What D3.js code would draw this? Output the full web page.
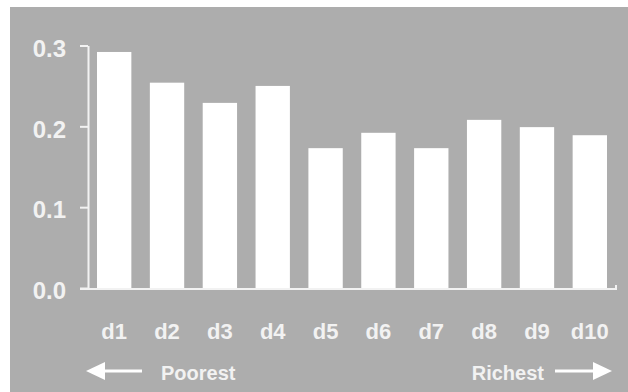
<!DOCTYPE html>
<html>
<head>
<meta charset="utf-8">
<script src="https://cdn.jsdelivr.net/npm/d3@7/dist/d3.min.js"></script>
<style>
  html, body { margin: 0; padding: 0; background: #fff; }
  svg { display: block; font-family: "Liberation Sans", Arial, Helvetica, sans-serif; font-weight: bold; }
</style>
</head>
<body>
<svg id="chart" width="628" height="392"></svg>
<script>
// Income deciles, poorest to richest
const deciles = ["d1", "d2", "d3", "d4", "d5", "d6", "d7", "d8", "d9", "d10"];
// Share per decile
const shares = [0.292, 0.254, 0.229, 0.250, 0.173, 0.192, 0.173, 0.208, 0.199, 0.189];
// Y-axis ticks
const yTicks = [0, 0.1, 0.2, 0.3];
const leftLabel = "Poorest";
const rightLabel = "Richest";

const W = 628, H = 392;
const bg = "#adadad", ink = "#f2f2f2";
const svg = d3.select("#chart");

// grey panel
svg.append("rect")
  .attr("x", 10).attr("y", 7)
  .attr("width", W - 10).attr("height", H - 7)
  .attr("fill", bg);

const y = d3.scaleLinear().domain([0, 0.3]).range([288, 45.5]);
const x = d3.scaleBand().domain(deciles).range([97, 607]).paddingInner(0.35).paddingOuter(0);

// bars
svg.append("g").selectAll("rect")
  .data(deciles.map((d, i) => ({ d, v: shares[i] })))
  .join("rect")
  .attr("x", d => x(d.d))
  .attr("y", d => y(d.v))
  .attr("width", x.bandwidth())
  .attr("height", d => y(0) - y(d.v))
  .attr("fill", "#fff");

// y axis
const yAxis = svg.append("g")
  .attr("transform", "translate(88,0)")
  .call(d3.axisLeft(y).tickValues(yTicks).tickFormat(d3.format(".1f")).tickSize(8).tickSizeOuter(0).tickPadding(14));
yAxis.select(".domain").attr("stroke", ink).attr("stroke-width", 2);
yAxis.selectAll(".tick line").attr("stroke", ink).attr("stroke-width", 2);
yAxis.selectAll(".tick text")
  .attr("fill", ink)
  .attr("font-size", 24)
  .attr("font-weight", "bold")
  .attr("font-family", "Liberation Sans, Arial, sans-serif")
  .attr("dy", "0.45em");

// x axis baseline with a small end cap
const xAxis = svg.append("g")
  .attr("transform", "translate(0,289)")
  .call(d3.axisBottom(x).tickSize(0).tickPadding(34));
xAxis.select(".domain").remove();
xAxis.append("path")
  .attr("d", "M80,0H616V-4")
  .attr("fill", "none")
  .attr("stroke", ink)
  .attr("stroke-width", 2);
xAxis.selectAll(".tick text")
  .attr("fill", ink)
  .attr("font-size", 22)
  .attr("font-weight", "bold")
  .attr("font-family", "Liberation Sans, Arial, sans-serif");

// direction arrows
function arrow(x0, x1, yy) {
  const dir = Math.sign(x1 - x0), head = 19, half = 9;
  svg.append("line")
    .attr("x1", x0).attr("x2", x1 - dir * head + dir)
    .attr("y1", yy).attr("y2", yy)
    .attr("stroke", "#fff").attr("stroke-width", 3);
  svg.append("path")
    .attr("d", `M${x1},${yy}L${x1 - dir * head},${yy - half}L${x1 - dir * head},${yy + half}Z`)
    .attr("fill", "#fff");
}
arrow(142, 86, 371);
arrow(555, 612, 371);

svg.append("text")
  .attr("x", 161).attr("y", 380)
  .attr("font-size", 20).attr("fill", ink)
  .text(leftLabel);
svg.append("text")
  .attr("x", 544).attr("y", 380)
  .attr("text-anchor", "end")
  .attr("font-size", 20).attr("fill", ink)
  .text(rightLabel);
</script>
</body>
</html>
